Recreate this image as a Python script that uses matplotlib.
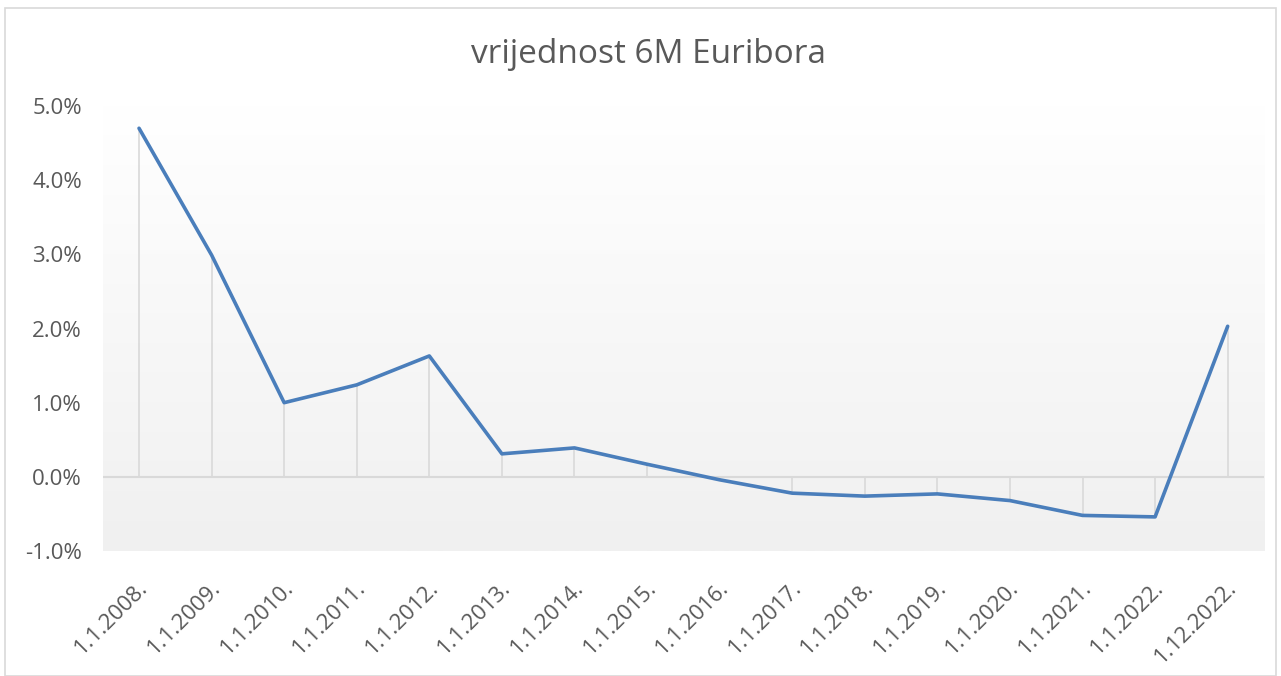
import matplotlib

matplotlib.use("Agg")
import matplotlib.pyplot as plt
import matplotlib.transforms as mtransforms
import numpy as np
from matplotlib.colors import LinearSegmentedColormap
from matplotlib.patches import Rectangle
from matplotlib.ticker import FuncFormatter

# 6M Euribor on the first day of each year (percent)
dates = [
    "1.1.2008.", "1.1.2009.", "1.1.2010.", "1.1.2011.", "1.1.2012.",
    "1.1.2013.", "1.1.2014.", "1.1.2015.", "1.1.2016.", "1.1.2017.",
    "1.1.2018.", "1.1.2019.", "1.1.2020.", "1.1.2021.", "1.1.2022.",
    "1.12.2022.",
]
euribor_6m = [
    4.70, 2.99, 1.00, 1.24, 1.63,
    0.31, 0.39, 0.17, -0.04, -0.22,
    -0.26, -0.23, -0.32, -0.52, -0.54,
    2.03,
]
y_ticks = [-1.0, 0.0, 1.0, 2.0, 3.0, 4.0, 5.0]

TEXT = "#595959"
LINE = "#4a7ebb"
GRID = "#d9d9d9"

plt.rcParams["font.family"] = ["Open Sans", "DejaVu Sans"]

fig = plt.figure(figsize=(12.81, 6.76), dpi=100)
# thin chart-area border like the Excel export
fig.patches.append(Rectangle((0.004, 0.0), 0.992, 0.988, transform=fig.transFigure,
                             fill=False, edgecolor="#d9d9d9", linewidth=1.2))
ax = fig.add_axes([0.0802, 0.1849, 0.9065, 0.6583])

xs = np.arange(len(dates))

# plot-area gradient: white at top to light grey at bottom
grad = LinearSegmentedColormap.from_list("bg", ["#ffffff", "#f0f0f0"])
ax.imshow(np.linspace(0, 1, 256).reshape(-1, 1), cmap=grad, aspect="auto",
          extent=(0, 1, 0, 1), transform=ax.transAxes, zorder=0)

ax.axhline(0, color=GRID, linewidth=1.5, zorder=1)
ax.vlines(xs, 0, euribor_6m, color=GRID, linewidth=1.2, zorder=1)
ax.plot(xs, euribor_6m, color=LINE, linewidth=2.6, solid_joinstyle="round",
        solid_capstyle="round", zorder=3)

ax.set_xlim(-0.5, len(dates) - 0.5)
ax.set_ylim(-1.0, 5.0)
ax.set_yticks(y_ticks)
ax.yaxis.set_major_formatter(FuncFormatter(lambda v, _pos: f"{v:.1f}%"))
ax.set_xticks(xs)
ax.set_xticklabels(dates, rotation=45, ha="right", va="center", rotation_mode="anchor")

ax.tick_params(axis="both", length=0, colors=TEXT, labelsize=16)
ax.tick_params(axis="y", pad=15)
ax.tick_params(axis="x", pad=24)
# nudge the slanted date labels so their ends sit just right of each tick
shift = mtransforms.ScaledTranslation(6 / 100, 0, fig.dpi_scale_trans)
for lbl in ax.get_xticklabels():
    lbl.set_transform(lbl.get_transform() + shift)
for side in ax.spines.values():
    side.set_visible(False)

fig.text(0.506, 1 - 63 / 676, "vrijednost 6M Euribora", ha="center", va="baseline",
         color=TEXT, fontsize=24)

fig.savefig("out.png", dpi=100)
